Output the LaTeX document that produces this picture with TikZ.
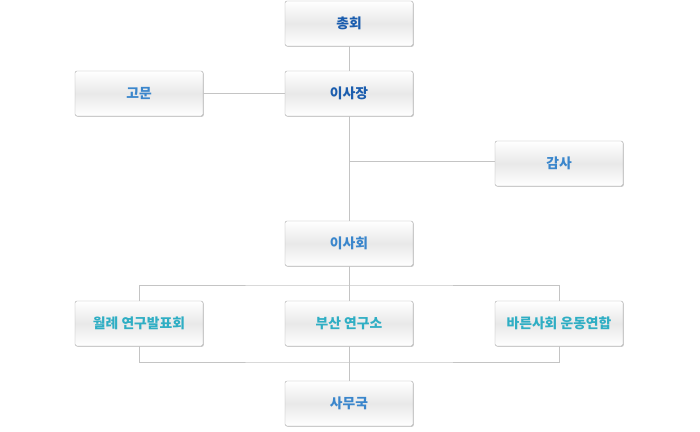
\documentclass[tikz,border=0pt]{standalone}
\usepackage{fontspec}
\setmainfont{Noto Sans CJK KR}
\usetikzlibrary{shadows}
\definecolor{titleblue}{HTML}{1B5DAE}
\definecolor{midblue}{HTML}{3A86CC}
\definecolor{tealblue}{HTML}{2FAEC4}
\definecolor{linegray}{HTML}{C4C4C4}
\definecolor{boxgray}{HTML}{A8A8A8}
\tikzset{
  orgbox/.style={draw=boxgray, rounded corners=2pt, minimum width=128pt, minimum height=45pt,
    inner sep=0pt, top color=white, bottom color=white, middle color=black!9,
    drop shadow={shadow xshift=0.8pt, shadow yshift=-0.8pt, opacity=0.35, fill=black!60},
    font=\fontsize{13.8}{16}\selectfont\bfseries},
  link/.style={draw=linegray, line width=0.9pt}
}
\begin{document}
\begin{tikzpicture}[x=1pt, y=-1pt]
    \useasboundingbox (0,0) rectangle (700,431);

    % 분기점
    \coordinate (jgamsa) at (349,161);
    \coordinate (jtop) at (349,285);
    \coordinate (jbot) at (349,362);

    % 상단 상자
    \node[orgbox, text=titleblue] (chonghoe) at (349,23.5) {총회};
    \node[orgbox, text=titleblue] (isajang) at (349,93.5) {이사장};
    \node[orgbox, text=midblue] (gomun) at (139,93.5) {고문};
    \node[orgbox, text=midblue] (gamsa) at (559,163.5) {감사};
    \node[orgbox, text=midblue] (isahoe) at (349,243.5) {이사회};

    % 하단 상자: 이름/{텍스트}
    \foreach \name/\label [count=\i] in {wollye/{월례 연구발표회}, busan/{부산 연구소}, bareun/{바른사회 운동연합}} {
        \node[orgbox, text=tealblue] (\name) at (139+210*\i-210,323.5) {\label};
    }
    \node[orgbox, text=midblue] (samuguk) at (349,403.5) {사무국};

    % 연결선
    \draw[link] (chonghoe) -- (isajang);
    \draw[link] (gomun) -- (isajang);
    \draw[link] (isajang) -- (isahoe);
    \draw[link] (jgamsa) -- (jgamsa -| gamsa.west);
    \draw[link] (isahoe) -- (jtop);
    \draw[link] (wollye.north) |- (jtop) -| (bareun.north);
    \draw[link] (jtop) -- (busan);
    \draw[link] (wollye.south) |- (jbot) -| (bareun.south);
    \draw[link] (busan) -- (samuguk);
\end{tikzpicture}
\end{document}
